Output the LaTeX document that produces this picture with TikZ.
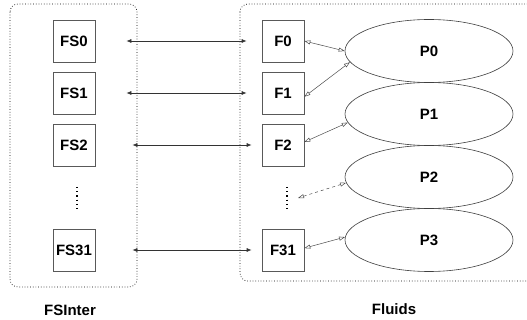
\documentclass[tikz,border=0pt]{standalone}
\usepackage{fontspec}
\setmainfont{Liberation Sans}
\usetikzlibrary{arrows.meta,shapes.geometric}

\tikzset{
  box/.style={draw=black!65,line width=0.7pt,minimum size=42pt,inner sep=0pt,font=\bfseries\fontsize{15}{15}\selectfont},
  proc/.style={draw=black!75,line width=0.6pt,ellipse,minimum width=168pt,minimum height=63pt,inner sep=0pt,font=\bfseries\fontsize{15}{15}\selectfont},
  group/.style={draw,dotted,line width=0.7pt,rounded corners=8pt},
  vdots/.style={dash pattern=on 1.2pt off 3pt,line width=1.2pt},
  link/.style={draw=black!80,line width=0.7pt,{Latex[length=5pt,width=4pt]}-{Latex[length=5pt,width=4pt]}},
  share/.style={draw=black!70,line width=0.5pt,{Triangle[open,length=6pt,width=4pt]}-{Triangle[open,length=6pt,width=4pt]}},
  caption/.style={font=\bfseries\fontsize{15}{15}\selectfont}
}

\begin{document}
\begin{tikzpicture}[x=1pt,y=-1pt]
  \useasboundingbox (0,0) rectangle (527,320);
  % the two groups
  \draw[group] (10,4) rectangle (137,287);
  \draw[group] (240,4) rectangle (540,281);
  \foreach \i/\y in {0/41,1/93,2/145,31/250} {
    \node[box] (fs\i) at (74,\y) {FS\i};
    \node[box] (f\i) at (283,\y) {F\i};
  }
  \foreach \i/\y in {0/51,1/114,2/177,3/240}
    \node[proc] (p\i) at (429,\y) {P\i};
  \draw[vdots] (77,187) -- (77,209);
  \draw[vdots] (287,187) -- (287,209);
  \coordinate (fdots) at (298,198);
  % FSInter <-> Fluids
  \draw[link,shorten <=31pt,shorten >=15pt] (fs0.east) -- (f0.west);
  \draw[link,shorten <=31pt,shorten >=15pt] (fs1.east) -- (f1.west);
  \draw[link,shorten <=37pt,shorten >=10pt] (fs2.east) -- (f2.west);
  \draw[link,shorten <=37pt,shorten >=10pt] (fs31.east) -- (f31.west);
  % Fluids <-> processes
  \draw[share] (f0.east) -- (p0.west);
  \draw[share] (f1.-10) -- (p0.188);
  \draw[share] (f2.8) -- (p1.186);
  \draw[share,dashed] (fdots) -- (p2.184);
  \draw[share] (f31.5) -- (p3.178);
  \node[caption] (fsinter) at (70,310) {FSInter};
  \node[caption] (fluids) at (394,309) {Fluids};
\end{tikzpicture}
\end{document}
